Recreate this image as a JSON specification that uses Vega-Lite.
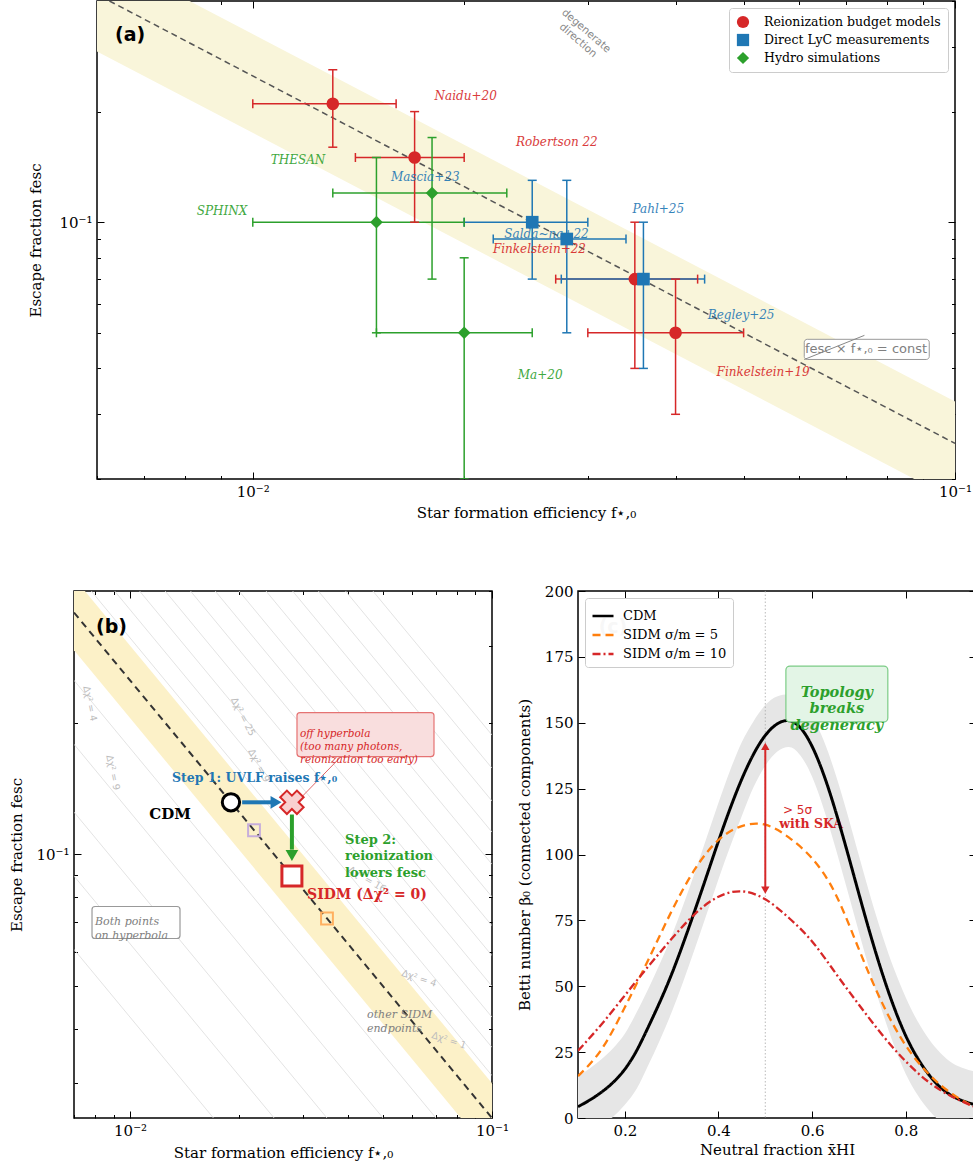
{
"$schema": "https://vega.github.io/schema/vega-lite/v6.json",
"padding": {"left": 9, "top": -7, "right": 0, "bottom": 0},
"config": {
 "view": {"stroke": "black", "strokeWidth": 1.5},
 "axis": {"domain": false, "grid": false, "zindex": 1, "tickColor": "black", "tickWidth": 1, "tickSize": -7, "labelPadding": 12, "labelFont": "DejaVu Serif", "labelFontSize": 15, "labelColor": "black", "titleFont": "DejaVu Serif", "titleFontSize": 15, "titleFontWeight": "normal", "titleColor": "black", "labelOverlap": false, "labelFlush": false},
 "legend": {"labelFont": "DejaVu Serif", "labelColor": "black", "labelLimit": 400},
 "text": {"font": "DejaVu Serif"}
},
"resolve": {"scale": {"color": "independent", "shape": "independent", "strokeDash": "independent", "fill": "independent", "stroke": "independent"}},
"columns": 1,
"spacing": 61,
"datasets": {
 "pa": [
  {"cat": "Reionization budget models", "x": 0.013, "xlo": 0.010, "xhi": 0.016, "y": 0.21, "ylo": 0.16, "yhi": 0.26},
  {"cat": "Reionization budget models", "x": 0.017, "xlo": 0.014, "xhi": 0.020, "y": 0.15, "ylo": 0.10, "yhi": 0.20},
  {"cat": "Reionization budget models", "x": 0.035, "xlo": 0.027, "xhi": 0.043, "y": 0.07, "ylo": 0.04, "yhi": 0.10},
  {"cat": "Reionization budget models", "x": 0.040, "xlo": 0.030, "xhi": 0.050, "y": 0.05, "ylo": 0.03, "yhi": 0.07},
  {"cat": "Direct LyC measurements", "x": 0.025, "xlo": 0.020, "xhi": 0.030, "y": 0.10, "ylo": 0.07, "yhi": 0.13},
  {"cat": "Direct LyC measurements", "x": 0.028, "xlo": 0.022, "xhi": 0.034, "y": 0.09, "ylo": 0.05, "yhi": 0.13},
  {"cat": "Direct LyC measurements", "x": 0.036, "xlo": 0.0275, "xhi": 0.044, "y": 0.07, "ylo": 0.04, "yhi": 0.10},
  {"cat": "Hydro simulations", "x": 0.015, "xlo": 0.010, "xhi": 0.020, "y": 0.10, "ylo": 0.05, "yhi": 0.15},
  {"cat": "Hydro simulations", "x": 0.018, "xlo": 0.013, "xhi": 0.023, "y": 0.12, "ylo": 0.07, "yhi": 0.17},
  {"cat": "Hydro simulations", "x": 0.020, "xlo": 0.015, "xhi": 0.025, "y": 0.05, "ylo": 0.02, "yhi": 0.08}
 ],
 "cdm": [
  {"model": "CDM", "x": 0.1, "b": 4.3}, {"model": "CDM", "x": 0.125, "b": 6.8}, {"model": "CDM", "x": 0.15, "b": 9.8},
  {"model": "CDM", "x": 0.175, "b": 13.5}, {"model": "CDM", "x": 0.2, "b": 18.5}, {"model": "CDM", "x": 0.225, "b": 25.5},
  {"model": "CDM", "x": 0.25, "b": 34.5}, {"model": "CDM", "x": 0.275, "b": 44.1}, {"model": "CDM", "x": 0.3, "b": 54.6},
  {"model": "CDM", "x": 0.325, "b": 66.4}, {"model": "CDM", "x": 0.35, "b": 79.0}, {"model": "CDM", "x": 0.375, "b": 92.0},
  {"model": "CDM", "x": 0.4, "b": 105.1}, {"model": "CDM", "x": 0.425, "b": 117.5}, {"model": "CDM", "x": 0.45, "b": 128.7},
  {"model": "CDM", "x": 0.475, "b": 138.1}, {"model": "CDM", "x": 0.5, "b": 145.2}, {"model": "CDM", "x": 0.525, "b": 149.5},
  {"model": "CDM", "x": 0.55, "b": 150.8}, {"model": "CDM", "x": 0.575, "b": 148.1}, {"model": "CDM", "x": 0.6, "b": 141.0},
  {"model": "CDM", "x": 0.625, "b": 130.2}, {"model": "CDM", "x": 0.65, "b": 116.5}, {"model": "CDM", "x": 0.675, "b": 101.1},
  {"model": "CDM", "x": 0.7, "b": 85.0}, {"model": "CDM", "x": 0.725, "b": 69.3}, {"model": "CDM", "x": 0.75, "b": 54.8},
  {"model": "CDM", "x": 0.775, "b": 42.0}, {"model": "CDM", "x": 0.8, "b": 31.2}, {"model": "CDM", "x": 0.825, "b": 22.8},
  {"model": "CDM", "x": 0.85, "b": 16.3}, {"model": "CDM", "x": 0.875, "b": 11.5}, {"model": "CDM", "x": 0.9, "b": 8.3},
  {"model": "CDM", "x": 0.925, "b": 6.3}, {"model": "CDM", "x": 0.95, "b": 5.0}
 ],
 "cband": [
  {"x": 0.1, "lo": -7.2, "hi": 15.8}, {"x": 0.125, "lo": -5.2, "hi": 18.8}, {"x": 0.15, "lo": -2.7, "hi": 22.3},
  {"x": 0.175, "lo": 0.5, "hi": 26.5}, {"x": 0.2, "lo": 5.0, "hi": 32.0}, {"x": 0.225, "lo": 11.0, "hi": 40.0},
  {"x": 0.25, "lo": 20.0, "hi": 49.0}, {"x": 0.275, "lo": 29.6, "hi": 58.6}, {"x": 0.3, "lo": 40.1, "hi": 69.1},
  {"x": 0.325, "lo": 51.9, "hi": 80.9}, {"x": 0.35, "lo": 64.5, "hi": 93.5}, {"x": 0.375, "lo": 77.5, "hi": 106.5},
  {"x": 0.4, "lo": 90.6, "hi": 119.6}, {"x": 0.425, "lo": 103.0, "hi": 132.0}, {"x": 0.45, "lo": 114.7, "hi": 142.7},
  {"x": 0.475, "lo": 125.6, "hi": 150.6}, {"x": 0.5, "lo": 133.7, "hi": 156.7}, {"x": 0.525, "lo": 139.0, "hi": 160.0},
  {"x": 0.55, "lo": 140.8, "hi": 160.8}, {"x": 0.575, "lo": 137.6, "hi": 158.6}, {"x": 0.6, "lo": 129.5, "hi": 152.5},
  {"x": 0.625, "lo": 117.2, "hi": 143.2}, {"x": 0.65, "lo": 102.5, "hi": 130.5}, {"x": 0.675, "lo": 86.6, "hi": 115.6},
  {"x": 0.7, "lo": 70.5, "hi": 99.5}, {"x": 0.725, "lo": 54.8, "hi": 83.8}, {"x": 0.75, "lo": 40.3, "hi": 69.3},
  {"x": 0.775, "lo": 27.5, "hi": 56.5}, {"x": 0.8, "lo": 16.7, "hi": 45.7}, {"x": 0.825, "lo": 8.8, "hi": 36.8},
  {"x": 0.85, "lo": 2.8, "hi": 29.8}, {"x": 0.875, "lo": -1.5, "hi": 24.5}, {"x": 0.9, "lo": -4.2, "hi": 20.8},
  {"x": 0.925, "lo": -6.2, "hi": 18.8}, {"x": 0.95, "lo": -7.5, "hi": 17.5}
 ],
 "sidm": [
  {"model": "SIDM σ/m = 5", "x": 0.10, "b": 15.9}, {"model": "SIDM σ/m = 5", "x": 0.15, "b": 26}, {"model": "SIDM σ/m = 5", "x": 0.20, "b": 42},
  {"model": "SIDM σ/m = 5", "x": 0.25, "b": 60}, {"model": "SIDM σ/m = 5", "x": 0.30, "b": 78.5}, {"model": "SIDM σ/m = 5", "x": 0.35, "b": 94.5},
  {"model": "SIDM σ/m = 5", "x": 0.40, "b": 105.5}, {"model": "SIDM σ/m = 5", "x": 0.45, "b": 110.8}, {"model": "SIDM σ/m = 5", "x": 0.50, "b": 111.3},
  {"model": "SIDM σ/m = 5", "x": 0.55, "b": 106.5}, {"model": "SIDM σ/m = 5", "x": 0.60, "b": 98.5}, {"model": "SIDM σ/m = 5", "x": 0.65, "b": 85},
  {"model": "SIDM σ/m = 5", "x": 0.70, "b": 64}, {"model": "SIDM σ/m = 5", "x": 0.75, "b": 43.5}, {"model": "SIDM σ/m = 5", "x": 0.80, "b": 27.5},
  {"model": "SIDM σ/m = 5", "x": 0.85, "b": 16.5}, {"model": "SIDM σ/m = 5", "x": 0.90, "b": 9}, {"model": "SIDM σ/m = 5", "x": 0.95, "b": 3.8},
  {"model": "SIDM σ/m = 10", "x": 0.10, "b": 25.5}, {"model": "SIDM σ/m = 10", "x": 0.15, "b": 35.5}, {"model": "SIDM σ/m = 10", "x": 0.20, "b": 46.5},
  {"model": "SIDM σ/m = 10", "x": 0.25, "b": 57.5}, {"model": "SIDM σ/m = 10", "x": 0.30, "b": 68}, {"model": "SIDM σ/m = 10", "x": 0.35, "b": 77.5},
  {"model": "SIDM σ/m = 10", "x": 0.40, "b": 84}, {"model": "SIDM σ/m = 10", "x": 0.45, "b": 86}, {"model": "SIDM σ/m = 10", "x": 0.50, "b": 83},
  {"model": "SIDM σ/m = 10", "x": 0.55, "b": 76}, {"model": "SIDM σ/m = 10", "x": 0.60, "b": 67}, {"model": "SIDM σ/m = 10", "x": 0.65, "b": 55},
  {"model": "SIDM σ/m = 10", "x": 0.70, "b": 43}, {"model": "SIDM σ/m = 10", "x": 0.75, "b": 31.5}, {"model": "SIDM σ/m = 10", "x": 0.80, "b": 21.5},
  {"model": "SIDM σ/m = 10", "x": 0.85, "b": 13.5}, {"model": "SIDM σ/m = 10", "x": 0.90, "b": 8}, {"model": "SIDM σ/m = 10", "x": 0.95, "b": 4}
 ]
},
"concat": [
 {
  "spacing": -50,
  "resolve": {"scale": {"color": "independent", "shape": "independent", "strokeDash": "independent", "fill": "independent", "stroke": "independent"}},
  "hconcat": [
   {"width": 1, "height": 10, "view": {"stroke": null}, "data": {"values": [{"a": 1}]}, "mark": {"type": "point", "opacity": 0}, "encoding": {}},
   {
    "width": 858, "height": 478,
    "resolve": {"axis": {"x": "independent", "y": "independent"}},
    "layer": [
     {
      "data": {"values": [{"x": 0.006, "lo": 0.2917, "hi": 0.5417}, {"x": 0.1, "lo": 0.0175, "hi": 0.0325}]},
      "mark": {"type": "area", "color": "#f9f5da", "opacity": 1, "clip": true},
      "encoding": {
       "x": {"field": "x", "type": "quantitative", "scale": {"type": "log", "domain": [0.006, 0.1], "nice": false},
        "axis": {"orient": "bottom", "values": [0.006, 0.007, 0.008, 0.009, 0.01, 0.02, 0.03, 0.04, 0.05, 0.06, 0.07, 0.08, 0.09, 0.1],
         "labelExpr": "datum.value == 0.01 ? '10⁻²' : (datum.value == 0.1 ? '10⁻¹' : '')",
         "tickSize": {"condition": {"test": "datum.value == 0.01 || datum.value == 0.1", "value": -7}, "value": -3.5},
         "title": "Star formation efficiency f⋆,₀", "titlePadding": 3}},
       "y": {"field": "lo", "type": "quantitative", "scale": {"type": "log", "domain": [0.02, 0.4], "nice": false},
        "axis": {"orient": "left", "values": [0.02, 0.03, 0.04, 0.05, 0.06, 0.07, 0.08, 0.09, 0.1, 0.2, 0.3, 0.4],
         "labelExpr": "datum.value == 0.1 ? '10⁻¹' : ''",
         "tickSize": {"condition": {"test": "datum.value == 0.1", "value": -7}, "value": -3.5},
         "title": "Escape fraction fesc", "titlePadding": 15}},
       "y2": {"field": "hi"}
      }
     },
     {
      "data": {"values": [{"x": 0.00625, "y": 0.4}, {"x": 0.1, "y": 0.025}]},
      "mark": {"type": "line", "color": "#555555", "strokeWidth": 1.5, "strokeDash": [6, 4], "clip": true},
      "encoding": {
       "x": {"field": "x", "type": "quantitative",
        "axis": {"orient": "top", "values": [0.006, 0.007, 0.008, 0.009, 0.01, 0.02, 0.03, 0.04, 0.05, 0.06, 0.07, 0.08, 0.09, 0.1], "labels": false, "title": null,
         "tickSize": {"condition": {"test": "datum.value == 0.01 || datum.value == 0.1", "value": -7}, "value": -3.5}}},
       "y": {"field": "y", "type": "quantitative",
        "axis": {"orient": "right", "values": [0.02, 0.03, 0.04, 0.05, 0.06, 0.07, 0.08, 0.09, 0.1, 0.2, 0.3, 0.4], "labels": false, "title": null,
         "tickSize": {"condition": {"test": "datum.value == 0.1", "value": -7}, "value": -3.5}}}
      }
     },
     {
      "data": {"name": "pa"},
      "mark": {"type": "rule", "strokeWidth": 1.5, "clip": true},
      "encoding": {
       "x": {"field": "xlo", "type": "quantitative", "axis": null},
       "x2": {"field": "xhi"},
       "y": {"field": "y", "type": "quantitative", "axis": null},
       "stroke": {"field": "cat", "type": "nominal", "scale": {"domain": ["Hydro simulations", "Direct LyC measurements", "Reionization budget models"], "range": ["#2ca02c", "#1f77b4", "#d62728"]}, "legend": null}
      }
     },
     {
      "data": {"name": "pa"},
      "mark": {"type": "rule", "strokeWidth": 1.5, "clip": true},
      "encoding": {
       "x": {"field": "x", "type": "quantitative", "axis": null},
       "y": {"field": "ylo", "type": "quantitative", "axis": null},
       "y2": {"field": "yhi"},
       "stroke": {"field": "cat", "type": "nominal", "legend": null}
      }
     },
     {
      "data": {"name": "pa"},
      "transform": [{"fold": ["xlo", "xhi"], "as": ["k", "v"]}],
      "mark": {"type": "tick", "orient": "vertical", "size": 9, "thickness": 1.5, "opacity": 1, "clip": true},
      "encoding": {
       "x": {"field": "v", "type": "quantitative", "axis": null},
       "y": {"field": "y", "type": "quantitative", "axis": null},
       "fill": {"field": "cat", "type": "nominal", "scale": {"domain": ["Direct LyC measurements", "Hydro simulations", "Reionization budget models"], "range": ["#1f77b4", "#2ca02c", "#d62728"]}, "legend": null}
      }
     },
     {
      "data": {"name": "pa"},
      "transform": [{"fold": ["ylo", "yhi"], "as": ["k", "v"]}],
      "mark": {"type": "tick", "orient": "horizontal", "size": 9, "thickness": 1.5, "opacity": 1, "clip": true},
      "encoding": {
       "x": {"field": "x", "type": "quantitative", "axis": null},
       "y": {"field": "v", "type": "quantitative", "axis": null},
       "fill": {"field": "cat", "type": "nominal", "legend": null}
      }
     },
     {
      "data": {"values": [
       {"t": "Naidu+20", "cat": "Reionization budget models", "x": 0.0201, "y": 0.220},
       {"t": "Robertson 22", "cat": "Reionization budget models", "x": 0.0271, "y": 0.165},
       {"t": "Finkelstein+22", "cat": "Reionization budget models", "x": 0.0256, "y": 0.0844},
       {"t": "Finkelstein+19", "cat": "Reionization budget models", "x": 0.0533, "y": 0.039},
       {"t": "Salda~na+22", "cat": "Direct LyC measurements", "x": 0.0262, "y": 0.0927},
       {"t": "Mascia+23", "cat": "Direct LyC measurements", "x": 0.0176, "y": 0.1325},
       {"t": "Pahl+25", "cat": "Direct LyC measurements", "x": 0.0378, "y": 0.1084},
       {"t": "Begley+25", "cat": "Direct LyC measurements", "x": 0.0496, "y": 0.0558},
       {"t": "THESAN", "cat": "Hydro simulations", "x": 0.0116, "y": 0.1475},
       {"t": "SPHINX", "cat": "Hydro simulations", "x": 0.00904, "y": 0.107},
       {"t": "Ma+20", "cat": "Hydro simulations", "x": 0.02566, "y": 0.0383}
      ]},
      "mark": {"type": "text", "fontStyle": "italic", "fontSize": 12, "align": "center", "baseline": "middle", "opacity": 0.9},
      "encoding": {
       "x": {"field": "x", "type": "quantitative", "axis": null},
       "y": {"field": "y", "type": "quantitative", "axis": null},
       "text": {"field": "t", "type": "nominal"},
       "fill": {"field": "cat", "type": "nominal", "legend": null}
      }
     },
     {
      "data": {"name": "pa"},
      "mark": {"type": "point", "filled": true, "size": 160, "opacity": 1, "clip": true},
      "encoding": {
       "x": {"field": "x", "type": "quantitative", "axis": null},
       "y": {"field": "y", "type": "quantitative", "axis": null},
       "color": {"field": "cat", "type": "nominal", "scale": {"domain": ["Reionization budget models", "Direct LyC measurements", "Hydro simulations"], "range": ["#d62728", "#1f77b4", "#2ca02c"]},
        "legend": {"title": null, "orient": "top-right", "offset": 7, "zindex": 2, "fillColor": "white", "strokeColor": "#cccccc", "cornerRadius": 3, "padding": 7, "symbolSize": 150, "labelFont": "DejaVu Serif", "labelFontSize": 12.5, "labelLimit": 400, "rowPadding": 4, "labelOffset": 14}},
       "shape": {"field": "cat", "type": "nominal", "scale": {"domain": ["Reionization budget models", "Direct LyC measurements", "Hydro simulations"], "range": ["circle", "square", "diamond"]},
        "legend": {"title": null, "orient": "top-right", "offset": 7, "zindex": 2, "fillColor": "white", "strokeColor": "#cccccc", "cornerRadius": 3, "padding": 7, "symbolSize": 150, "labelFont": "DejaVu Serif", "labelFontSize": 12.5, "labelLimit": 400, "rowPadding": 4, "labelOffset": 14}}
      }
     },
     {
      "data": {"values": [{"t": "(a)", "x": 0.00669, "y": 0.3231}]},
      "mark": {"type": "text", "font": "DejaVu Sans", "fontWeight": "bold", "fontSize": 19, "align": "center", "baseline": "middle", "color": "black"},
      "encoding": {"x": {"field": "x", "type": "quantitative", "axis": null}, "y": {"field": "y", "type": "quantitative", "axis": null}, "text": {"field": "t", "type": "nominal"}}
     },
     {
      "data": {"values": [{"t": "degenerate\ndirection", "x": 0.02984, "y": 0.3314}]},
      "mark": {"type": "text", "font": "DejaVu Sans", "fontSize": 10.5, "align": "center", "baseline": "middle", "angle": 41, "lineBreak": "\n", "color": "#888888"},
      "encoding": {"x": {"field": "x", "type": "quantitative", "axis": null}, "y": {"field": "y", "type": "quantitative", "axis": null}, "text": {"field": "t", "type": "nominal"}}
     },
     {
      "data": {"values": [{"x": 0.061, "x2": 0.0919, "y": 0.048, "y2": 0.0423}]},
      "mark": {"type": "rect", "fill": "white", "stroke": "#999999", "strokeWidth": 1, "cornerRadius": 3},
      "encoding": {"x": {"field": "x", "type": "quantitative", "axis": null}, "x2": {"field": "x2"}, "y": {"field": "y", "type": "quantitative", "axis": null}, "y2": {"field": "y2"}}
     },
     {
      "data": {"values": [{"t": "fesc × f⋆,₀ = const", "x": 0.0747, "y": 0.0451}]},
      "mark": {"type": "text", "font": "DejaVu Sans", "fontSize": 13, "align": "center", "baseline": "middle", "color": "#808080"},
      "encoding": {"x": {"field": "x", "type": "quantitative", "axis": null}, "y": {"field": "y", "type": "quantitative", "axis": null}, "text": {"field": "t", "type": "nominal"}}
     },
     {
      "data": {"values": [{"x": 0.0743, "y": 0.0492, "x2": 0.061, "y2": 0.0423}]},
      "mark": {"type": "rule", "color": "#888888", "strokeWidth": 1},
      "encoding": {"x": {"field": "x", "type": "quantitative", "axis": null}, "x2": {"field": "x2"}, "y": {"field": "y", "type": "quantitative", "axis": null}, "y2": {"field": "y2"}}
     }
    ]
   }
  ]
 },
 {
  "spacing": 6,
  "resolve": {"scale": {"color": "independent", "shape": "independent", "strokeDash": "independent", "fill": "independent", "stroke": "independent"}},
  "hconcat": [
   {
    "width": 418, "height": 527,
    "resolve": {"axis": {"x": "independent", "y": "independent"}},
    "layer": [
     {
      "data": {"values": [
       {"k": "a1", "x": 0.007, "y": 0.0607}, {"k": "a1", "x": 0.1, "y": 0.00425},
       {"k": "a2", "x": 0.007, "y": 0.0893}, {"k": "a2", "x": 0.1, "y": 0.00625},
       {"k": "a3", "x": 0.007, "y": 0.125}, {"k": "a3", "x": 0.1, "y": 0.00875},
       {"k": "a4", "x": 0.007, "y": 0.1786}, {"k": "a4", "x": 0.1, "y": 0.0125},
       {"k": "a5", "x": 0.007, "y": 0.25}, {"k": "a5", "x": 0.1, "y": 0.0175},
       {"k": "b1", "x": 0.007, "y": 0.4464}, {"k": "b1", "x": 0.1, "y": 0.03125},
       {"k": "b2", "x": 0.007, "y": 0.5179}, {"k": "b2", "x": 0.1, "y": 0.03625},
       {"k": "b3", "x": 0.007, "y": 0.6071}, {"k": "b3", "x": 0.1, "y": 0.0425},
       {"k": "b4", "x": 0.007, "y": 0.7143}, {"k": "b4", "x": 0.1, "y": 0.05},
       {"k": "b5", "x": 0.007, "y": 0.8393}, {"k": "b5", "x": 0.1, "y": 0.05875},
       {"k": "b6", "x": 0.007, "y": 0.9821}, {"k": "b6", "x": 0.1, "y": 0.06875},
       {"k": "b7", "x": 0.007, "y": 1.1429}, {"k": "b7", "x": 0.1, "y": 0.08},
       {"k": "b8", "x": 0.007, "y": 1.3571}, {"k": "b8", "x": 0.1, "y": 0.095},
       {"k": "b9", "x": 0.007, "y": 1.6071}, {"k": "b9", "x": 0.1, "y": 0.1125},
       {"k": "b10", "x": 0.007, "y": 1.8929}, {"k": "b10", "x": 0.1, "y": 0.1325},
       {"k": "b11", "x": 0.007, "y": 2.25}, {"k": "b11", "x": 0.1, "y": 0.1575},
       {"k": "b12", "x": 0.007, "y": 2.6786}, {"k": "b12", "x": 0.1, "y": 0.1875}
      ]},
      "mark": {"type": "line", "color": "#dcdcdc", "strokeWidth": 0.8, "clip": true},
      "encoding": {
       "x": {"field": "x", "type": "quantitative", "scale": {"type": "log", "domain": [0.007, 0.1], "nice": false},
        "axis": {"orient": "bottom", "values": [0.007, 0.008, 0.009, 0.01, 0.02, 0.03, 0.04, 0.05, 0.06, 0.07, 0.08, 0.09, 0.1],
         "labelExpr": "datum.value == 0.01 ? '10⁻²' : (datum.value == 0.1 ? '10⁻¹' : '')",
         "tickSize": {"condition": {"test": "datum.value == 0.01 || datum.value == 0.1", "value": -7}, "value": -3.5},
         "title": "Star formation efficiency f⋆,₀", "titlePadding": 4}},
       "y": {"field": "y", "type": "quantitative", "scale": {"type": "log", "domain": [0.025, 0.4], "nice": false},
        "axis": {"orient": "left", "values": [0.03, 0.04, 0.05, 0.06, 0.07, 0.08, 0.09, 0.1, 0.2, 0.3, 0.4],
         "labelExpr": "datum.value == 0.1 ? '10⁻¹' : ''",
         "tickSize": {"condition": {"test": "datum.value == 0.1", "value": -7}, "value": -3.5},
         "title": "Escape fraction fesc", "titlePadding": 11}},
       "detail": {"field": "k", "type": "nominal"}
      }
     },
     {
      "data": {"values": [{"x": 0.007, "lo": 0.2929, "hi": 0.4286}, {"x": 0.1, "lo": 0.0205, "hi": 0.03}]},
      "mark": {"type": "area", "color": "#fcf1c8", "opacity": 1, "clip": true},
      "encoding": {
       "x": {"field": "x", "type": "quantitative",
        "axis": {"orient": "top", "values": [0.007, 0.008, 0.009, 0.01, 0.02, 0.03, 0.04, 0.05, 0.06, 0.07, 0.08, 0.09, 0.1], "labels": false, "title": null,
         "tickSize": {"condition": {"test": "datum.value == 0.01 || datum.value == 0.1", "value": -7}, "value": -3.5}}},
       "y": {"field": "lo", "type": "quantitative",
        "axis": {"orient": "right", "values": [0.03, 0.04, 0.05, 0.06, 0.07, 0.08, 0.09, 0.1, 0.2, 0.3, 0.4], "labels": false, "title": null,
         "tickSize": {"condition": {"test": "datum.value == 0.1", "value": -7}, "value": -3.5}}},
       "y2": {"field": "hi"}
      }
     },
     {
      "data": {"values": [{"x": 0.007, "y": 0.35714}, {"x": 0.1, "y": 0.025}]},
      "mark": {"type": "line", "color": "#333333", "strokeWidth": 2, "strokeDash": [7, 5], "clip": true},
      "encoding": {"x": {"field": "x", "type": "quantitative", "axis": null}, "y": {"field": "y", "type": "quantitative", "axis": null}}
     },
     {
      "data": {"values": [{"t": "Δχ² = 4", "x": 0.00775, "y": 0.2212}, {"t": "Δχ² = 9", "x": 0.00897, "y": 0.1539}]},
      "mark": {"type": "text", "font": "DejaVu Sans", "fontSize": 9.5, "color": "#bdbdbd", "angle": 78, "align": "center", "baseline": "middle"},
      "encoding": {"x": {"field": "x", "type": "quantitative", "axis": null}, "y": {"field": "y", "type": "quantitative", "axis": null}, "text": {"field": "t", "type": "nominal"}}
     },
     {
      "data": {"values": [{"t": "Δχ² = 25", "x": 0.02052, "y": 0.2065}, {"t": "Δχ² = 9", "x": 0.0227, "y": 0.1597}]},
      "mark": {"type": "text", "font": "DejaVu Sans", "fontSize": 9.5, "color": "#bdbdbd", "angle": 63, "align": "center", "baseline": "middle"},
      "encoding": {"x": {"field": "x", "type": "quantitative", "axis": null}, "y": {"field": "y", "type": "quantitative", "axis": null}, "text": {"field": "t", "type": "nominal"}}
     },
     {
      "data": {"values": [{"t": "Δχ² = 16", "x": 0.04515, "y": 0.0877}]},
      "mark": {"type": "text", "font": "DejaVu Sans", "fontSize": 9.5, "color": "#bdbdbd", "angle": 30, "align": "center", "baseline": "middle"},
      "encoding": {"x": {"field": "x", "type": "quantitative", "axis": null}, "y": {"field": "y", "type": "quantitative", "axis": null}, "text": {"field": "t", "type": "nominal"}}
     },
     {
      "data": {"values": [{"t": "Δχ² = 4", "x": 0.06286, "y": 0.0521}, {"t": "Δχ² = 1", "x": 0.07605, "y": 0.0376}]},
      "mark": {"type": "text", "font": "DejaVu Sans", "fontSize": 9.5, "color": "#bdbdbd", "angle": 18, "align": "center", "baseline": "middle"},
      "encoding": {"x": {"field": "x", "type": "quantitative", "axis": null}, "y": {"field": "y", "type": "quantitative", "axis": null}, "text": {"field": "t", "type": "nominal"}}
     },
     {
      "data": {"values": [{"x": 0.022, "y": 0.1136}]},
      "mark": {"type": "point", "shape": "square", "size": 140, "filled": false, "stroke": "#c7aedb", "strokeWidth": 2, "opacity": 1},
      "encoding": {"x": {"field": "x", "type": "quantitative", "axis": null}, "y": {"field": "y", "type": "quantitative", "axis": null}}
     },
     {
      "data": {"values": [{"x": 0.035, "y": 0.0714}]},
      "mark": {"type": "point", "shape": "square", "size": 140, "filled": false, "stroke": "#ffb060", "strokeWidth": 2, "opacity": 1},
      "encoding": {"x": {"field": "x", "type": "quantitative", "axis": null}, "y": {"field": "y", "type": "quantitative", "axis": null}}
     },
     {
      "data": {"values": [{"x": 0.0204, "x2": 0.0246, "y": 0.1316}]},
      "mark": {"type": "rule", "color": "#1f77b4", "strokeWidth": 4},
      "encoding": {"x": {"field": "x", "type": "quantitative", "axis": null}, "x2": {"field": "x2"}, "y": {"field": "y", "type": "quantitative", "axis": null}}
     },
     {
      "data": {"values": [{"x": 0.02531, "y": 0.1316}]},
      "mark": {"type": "point", "shape": "triangle-right", "size": 160, "filled": true, "color": "#1f77b4", "opacity": 1},
      "encoding": {"x": {"field": "x", "type": "quantitative", "axis": null}, "y": {"field": "y", "type": "quantitative", "axis": null}}
     },
     {
      "data": {"values": [{"x": 0.028, "y": 0.1234, "y2": 0.1026}]},
      "mark": {"type": "rule", "color": "#2ca02c", "strokeWidth": 4},
      "encoding": {"x": {"field": "x", "type": "quantitative", "axis": null}, "y": {"field": "y", "type": "quantitative", "axis": null}, "y2": {"field": "y2"}}
     },
     {
      "data": {"values": [{"x": 0.028, "y": 0.0995}]},
      "mark": {"type": "point", "shape": "triangle-down", "size": 160, "filled": true, "color": "#2ca02c", "opacity": 1},
      "encoding": {"x": {"field": "x", "type": "quantitative", "axis": null}, "y": {"field": "y", "type": "quantitative", "axis": null}}
     },
     {
      "data": {"values": [{"x": 0.019, "y": 0.1316}]},
      "mark": {"type": "point", "shape": "circle", "size": 300, "filled": true, "fill": "white", "stroke": "black", "strokeWidth": 3, "opacity": 1},
      "encoding": {"x": {"field": "x", "type": "quantitative", "axis": null}, "y": {"field": "y", "type": "quantitative", "axis": null}}
     },
     {
      "data": {"values": [{"x": 0.028, "y": 0.0893}]},
      "mark": {"type": "point", "shape": "square", "size": 400, "filled": true, "fill": "white", "stroke": "#d62728", "strokeWidth": 3, "opacity": 1},
      "encoding": {"x": {"field": "x", "type": "quantitative", "axis": null}, "y": {"field": "y", "type": "quantitative", "axis": null}}
     },
     {
      "data": {"values": [{"x": 0.03803, "y": 0.1665, "x2": 0.02968, "y2": 0.1349}]},
      "mark": {"type": "rule", "color": "#e06666", "strokeWidth": 1},
      "encoding": {"x": {"field": "x", "type": "quantitative", "axis": null}, "x2": {"field": "x2"}, "y": {"field": "y", "type": "quantitative", "axis": null}, "y2": {"field": "y2"}}
     },
     {
      "data": {"values": [{"x": 0.028, "y": 0.1316}]},
      "mark": {"type": "point", "shape": "cross", "angle": 45, "size": 560, "filled": true, "fill": "#f9d0d0", "stroke": "#d62728", "strokeWidth": 2, "opacity": 1},
      "encoding": {"x": {"field": "x", "type": "quantitative", "axis": null}, "y": {"field": "y", "type": "quantitative", "axis": null}}
     },
     {
      "data": {"values": [{"x": 0.02892, "x2": 0.06914, "y": 0.2110, "y2": 0.1674}]},
      "mark": {"type": "rect", "fill": "#f9dede", "stroke": "#e57373", "strokeWidth": 1.2, "cornerRadius": 3},
      "encoding": {"x": {"field": "x", "type": "quantitative", "axis": null}, "x2": {"field": "x2"}, "y": {"field": "y", "type": "quantitative", "axis": null}, "y2": {"field": "y2"}}
     },
     {
      "data": {"values": [{"t": "off hyperbola\n(too many photons,\nreionization too early)", "x": 0.02948, "y": 0.1889}]},
      "mark": {"type": "text", "fontStyle": "italic", "fontSize": 10.5, "color": "#d62728", "align": "left", "baseline": "middle", "lineBreak": "\n", "lineHeight": 13},
      "encoding": {"x": {"field": "x", "type": "quantitative", "axis": null}, "y": {"field": "y", "type": "quantitative", "axis": null}, "text": {"field": "t", "type": "nominal"}}
     },
     {
      "data": {"values": [{"t": "Step 1: UVLF raises f⋆,₀", "x": 0.01306, "y": 0.1499}]},
      "mark": {"type": "text", "fontWeight": "bold", "fontSize": 12.5, "color": "#1f77b4", "align": "left", "baseline": "middle"},
      "encoding": {"x": {"field": "x", "type": "quantitative", "axis": null}, "y": {"field": "y", "type": "quantitative", "axis": null}, "text": {"field": "t", "type": "nominal"}}
     },
     {
      "data": {"values": [{"t": "CDM", "x": 0.0129, "y": 0.1240}]},
      "mark": {"type": "text", "fontWeight": "bold", "fontSize": 15, "color": "black", "align": "center", "baseline": "middle"},
      "encoding": {"x": {"field": "x", "type": "quantitative", "axis": null}, "y": {"field": "y", "type": "quantitative", "axis": null}, "text": {"field": "t", "type": "nominal"}}
     },
     {
      "data": {"values": [{"t": "Step 2:\nreionization\nlowers fesc", "x": 0.03926, "y": 0.1082}]},
      "mark": {"type": "text", "fontWeight": "bold", "fontSize": 13, "color": "#2ca02c", "align": "left", "baseline": "middle", "lineBreak": "\n", "lineHeight": 16.5},
      "encoding": {"x": {"field": "x", "type": "quantitative", "axis": null}, "y": {"field": "y", "type": "quantitative", "axis": null}, "text": {"field": "t", "type": "nominal"}}
     },
     {
      "data": {"values": [{"t": "SIDM (Δχ² = 0)", "x": 0.03083, "y": 0.0810}]},
      "mark": {"type": "text", "fontWeight": "bold", "fontSize": 14, "color": "#d62728", "align": "left", "baseline": "middle"},
      "encoding": {"x": {"field": "x", "type": "quantitative", "axis": null}, "y": {"field": "y", "type": "quantitative", "axis": null}, "text": {"field": "t", "type": "nominal"}}
     },
     {
      "data": {"values": [{"x": 0.00785, "x2": 0.01374, "y": 0.07607, "y2": 0.06428}]},
      "mark": {"type": "rect", "fill": "white", "stroke": "#999999", "strokeWidth": 1.2, "cornerRadius": 3},
      "encoding": {"x": {"field": "x", "type": "quantitative", "axis": null}, "x2": {"field": "x2"}, "y": {"field": "y", "type": "quantitative", "axis": null}, "y2": {"field": "y2"}}
     },
     {
      "data": {"values": [{"t": "Both points\non hyperbola", "x": 0.0080, "y": 0.06994}]},
      "mark": {"type": "text", "fontStyle": "italic", "fontSize": 11, "color": "#808080", "align": "left", "baseline": "middle", "lineBreak": "\n", "lineHeight": 14},
      "encoding": {"x": {"field": "x", "type": "quantitative", "axis": null}, "y": {"field": "y", "type": "quantitative", "axis": null}, "text": {"field": "t", "type": "nominal"}}
     },
     {
      "data": {"values": [{"t": "other SIDM\nendpoints", "x": 0.04515, "y": 0.0429}]},
      "mark": {"type": "text", "fontStyle": "italic", "fontSize": 11, "color": "#808080", "align": "left", "baseline": "middle", "lineBreak": "\n", "lineHeight": 14},
      "encoding": {"x": {"field": "x", "type": "quantitative", "axis": null}, "y": {"field": "y", "type": "quantitative", "axis": null}, "text": {"field": "t", "type": "nominal"}}
     },
     {
      "data": {"values": [{"t": "(b)", "x": 0.00889, "y": 0.3307}]},
      "mark": {"type": "text", "font": "DejaVu Sans", "fontWeight": "bold", "fontSize": 19, "align": "center", "baseline": "middle", "color": "black"},
      "encoding": {"x": {"field": "x", "type": "quantitative", "axis": null}, "y": {"field": "y", "type": "quantitative", "axis": null}, "text": {"field": "t", "type": "nominal"}}
     }
    ]
   },
   {
    "width": 398, "height": 527,
    "resolve": {"axis": {"x": "independent", "y": "independent"}},
    "layer": [
     {
      "data": {"name": "cband"},
      "mark": {"type": "area", "color": "#e6e6e6", "opacity": 1, "interpolate": "monotone", "clip": true},
      "encoding": {
       "x": {"field": "x", "type": "quantitative", "scale": {"domain": [0.1, 0.95], "nice": false, "zero": false},
        "axis": {"orient": "bottom", "values": [0.2, 0.4, 0.6, 0.8], "format": ".1f", "title": "Neutral fraction x̄HI", "titlePadding": 4}},
       "y": {"field": "lo", "type": "quantitative", "scale": {"domain": [0, 200], "nice": false},
        "axis": {"orient": "left", "values": [0, 25, 50, 75, 100, 125, 150, 175, 200], "title": "Betti number β₀ (connected components)", "titlePadding": 12}},
       "y2": {"field": "hi"}
      }
     },
     {
      "data": {"values": [{"x": 0.5}]},
      "mark": {"type": "rule", "color": "#aaaaaa", "strokeWidth": 0.8, "strokeDash": [1.5, 2]},
      "encoding": {"x": {"field": "x", "type": "quantitative", "axis": null}}
     },
     {
      "data": {"values": [{"t": "(c)", "x": 0.1747, "y": 186.3}]},
      "mark": {"type": "text", "font": "DejaVu Sans", "fontWeight": "bold", "fontSize": 19, "align": "center", "baseline": "middle", "color": "#d4d4d4"},
      "encoding": {"x": {"field": "x", "type": "quantitative", "axis": null}, "y": {"field": "y", "type": "quantitative", "axis": null}, "text": {"field": "t", "type": "nominal"}}
     },
     {
      "data": {"values": [{"t": "> 5σ", "x": 0.5376, "y": 116.9}]},
      "mark": {"type": "text", "font": "DejaVu Sans", "fontSize": 12, "color": "#d62728", "align": "left", "baseline": "middle"},
      "encoding": {"x": {"field": "x", "type": "quantitative", "axis": null}, "y": {"field": "y", "type": "quantitative", "axis": null}, "text": {"field": "t", "type": "nominal"}}
     },
     {
      "data": {"values": [{"t": "with SKA", "x": 0.5297, "y": 111.6}]},
      "mark": {"type": "text", "fontWeight": "bold", "fontSize": 12.5, "color": "#d62728", "align": "left", "baseline": "middle"},
      "encoding": {"x": {"field": "x", "type": "quantitative", "axis": null}, "y": {"field": "y", "type": "quantitative", "axis": null}, "text": {"field": "t", "type": "nominal"}}
     },
     {
      "data": {"name": "cdm"},
      "mark": {"type": "line", "strokeWidth": 3, "interpolate": "natural", "clip": true},
      "encoding": {
       "x": {"field": "x", "type": "quantitative", "axis": {"orient": "top", "values": [0.2, 0.4, 0.6, 0.8], "labels": false, "title": null}},
       "y": {"field": "b", "type": "quantitative", "axis": {"orient": "right", "values": [0, 25, 50, 75, 100, 125, 150, 175, 200], "labels": false, "title": null}},
       "color": {"field": "model", "type": "nominal", "scale": {"domain": ["CDM", "SIDM σ/m = 5", "SIDM σ/m = 10"], "range": ["black", "#ff7f0e", "#d62728"]},
        "legend": {"title": null, "orient": "top-left", "offset": 7, "fillColor": "rgba(255,255,255,0.8)", "strokeColor": "#cccccc", "cornerRadius": 3, "padding": 6, "symbolType": "stroke", "symbolSize": 441, "symbolStrokeWidth": 2.5, "labelFont": "DejaVu Serif", "labelFontSize": 13, "rowPadding": 0, "labelOffset": 8}},
       "strokeDash": {"field": "model", "type": "nominal", "scale": {"domain": ["CDM", "SIDM σ/m = 5", "SIDM σ/m = 10"], "range": [[1, 0], [8, 5], [8, 3, 2, 3]]},
        "legend": {"title": null, "orient": "top-left", "offset": 7, "fillColor": "rgba(255,255,255,0.8)", "strokeColor": "#cccccc", "cornerRadius": 3, "padding": 6, "symbolType": "stroke", "symbolSize": 441, "symbolStrokeWidth": 2.5, "labelFont": "DejaVu Serif", "labelFontSize": 13, "rowPadding": 0, "labelOffset": 8}}
      }
     },
     {
      "data": {"name": "sidm"},
      "mark": {"type": "line", "strokeWidth": 2.3, "interpolate": "natural", "clip": true},
      "encoding": {
       "x": {"field": "x", "type": "quantitative", "axis": null},
       "y": {"field": "b", "type": "quantitative", "axis": null},
       "color": {"field": "model", "type": "nominal"},
       "strokeDash": {"field": "model", "type": "nominal"}
      }
     },
     {
      "data": {"values": [{"x": 0.5, "y": 87, "y2": 140}]},
      "mark": {"type": "rule", "color": "#d62728", "strokeWidth": 2},
      "encoding": {"x": {"field": "x", "type": "quantitative", "axis": null}, "y": {"field": "y", "type": "quantitative", "axis": null}, "y2": {"field": "y2"}}
     },
     {
      "data": {"values": [{"x": 0.5, "y": 141}]},
      "mark": {"type": "point", "shape": "triangle-up", "size": 70, "filled": true, "color": "#d62728", "opacity": 1},
      "encoding": {"x": {"field": "x", "type": "quantitative", "axis": null}, "y": {"field": "y", "type": "quantitative", "axis": null}}
     },
     {
      "data": {"values": [{"x": 0.5, "y": 86.5}]},
      "mark": {"type": "point", "shape": "triangle-down", "size": 70, "filled": true, "color": "#d62728", "opacity": 1},
      "encoding": {"x": {"field": "x", "type": "quantitative", "axis": null}, "y": {"field": "y", "type": "quantitative", "axis": null}}
     },
     {
      "data": {"values": [{"x": 0.544, "x2": 0.7617, "y": 171.5, "y2": 150.3}]},
      "mark": {"type": "rect", "fill": "#e3f5e6", "stroke": "#7ccc86", "strokeWidth": 1.2, "cornerRadius": 4},
      "encoding": {"x": {"field": "x", "type": "quantitative", "axis": null}, "x2": {"field": "x2"}, "y": {"field": "y", "type": "quantitative", "axis": null}, "y2": {"field": "y2"}}
     },
     {
      "data": {"values": [{"t": "Topology\nbreaks\ndegeneracy", "x": 0.6528, "y": 161.3}]},
      "mark": {"type": "text", "fontWeight": "bold", "fontStyle": "italic", "fontSize": 14.5, "color": "#2ca02c", "align": "center", "baseline": "middle", "lineBreak": "\n", "lineHeight": 16.5},
      "encoding": {"x": {"field": "x", "type": "quantitative", "axis": null}, "y": {"field": "y", "type": "quantitative", "axis": null}, "text": {"field": "t", "type": "nominal"}}
     }
    ]
   }
  ]
 }
]
}
